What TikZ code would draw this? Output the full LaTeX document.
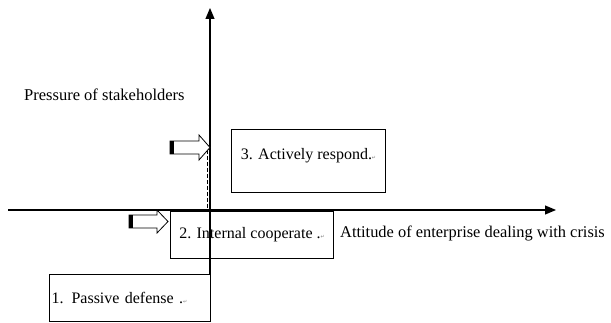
\documentclass[tikz,border=0pt]{standalone}
\usepackage{fontspec}
\setmainfont{Liberation Serif}
\newfontfamily\symfont{DejaVu Sans}
\usetikzlibrary{arrows.meta}
\newcommand{\pmark}{{\symfont\fontsize{5}{5}\selectfont\color{gray}↵}}
\tikzset{
  every node/.style={font=\fontsize{16}{19}\selectfont},
  boxnode/.style={draw, line width=1.1pt, inner sep=0pt, anchor=north west},
  axisline/.style={line width=1.1pt, -{Triangle[length=11pt,width=9pt]}},
  blockarrow/.style={draw, line width=0.8pt, fill=white},
}
\begin{document}
\begin{tikzpicture}[x=1pt,y=-1pt]
\useasboundingbox (0,0) rectangle (611,323);
% boxes
\node[boxnode, minimum width=161pt, minimum height=47pt, text width=159pt, align=left] (b1) at (49,274) {\hspace*{1pt}1. Passive defense .\pmark};
\node[boxnode, minimum width=163pt, minimum height=47pt, align=center] (b2) at (170,211) {2. Internal cooperate .\pmark};
\node[boxnode, minimum width=154pt, minimum height=63pt, align=center] (b3) at (231,129) {\raisebox{15pt}{3. Actively respond.\pmark}};
% axes
\coordinate (vb) at (210,274);
\coordinate (vt) at (210,8);
\coordinate (hl) at (8,210);
\coordinate (hr) at (556,210);
\draw[axisline] (vb) -- (vt);
\draw[axisline] (hl) -- (hr);
% dashed line
\coordinate (dt) at (207,150);
\coordinate (db) at (207,210);
\draw[line width=1pt, dash pattern=on 4pt off 2pt] (dt) -- (db);
% block arrow 1
\draw[blockarrow] (170,141) -- (199,141) -- (199,135) -- (210,147.5) -- (199,160) -- (199,154) -- (170,154) -- cycle;
\fill (170,141) rectangle (174,154);
% block arrow 2
\draw[blockarrow] (129,215) -- (157,215) -- (157,210) -- (168,221.5) -- (157,233) -- (157,228) -- (129,228) -- cycle;
\fill (129,215) rectangle (133,228);
% axis labels
\node[anchor=west, inner sep=0pt, font=\fontsize{16.5}{19}\selectfont] (py) at (24,95) {Pressure of stakeholders};
\node[anchor=west, inner sep=0pt, font=\fontsize{16.4}{19}\selectfont] (px) at (340,233) {Attitude of enterprise dealing with crisis};
\end{tikzpicture}
\end{document}
